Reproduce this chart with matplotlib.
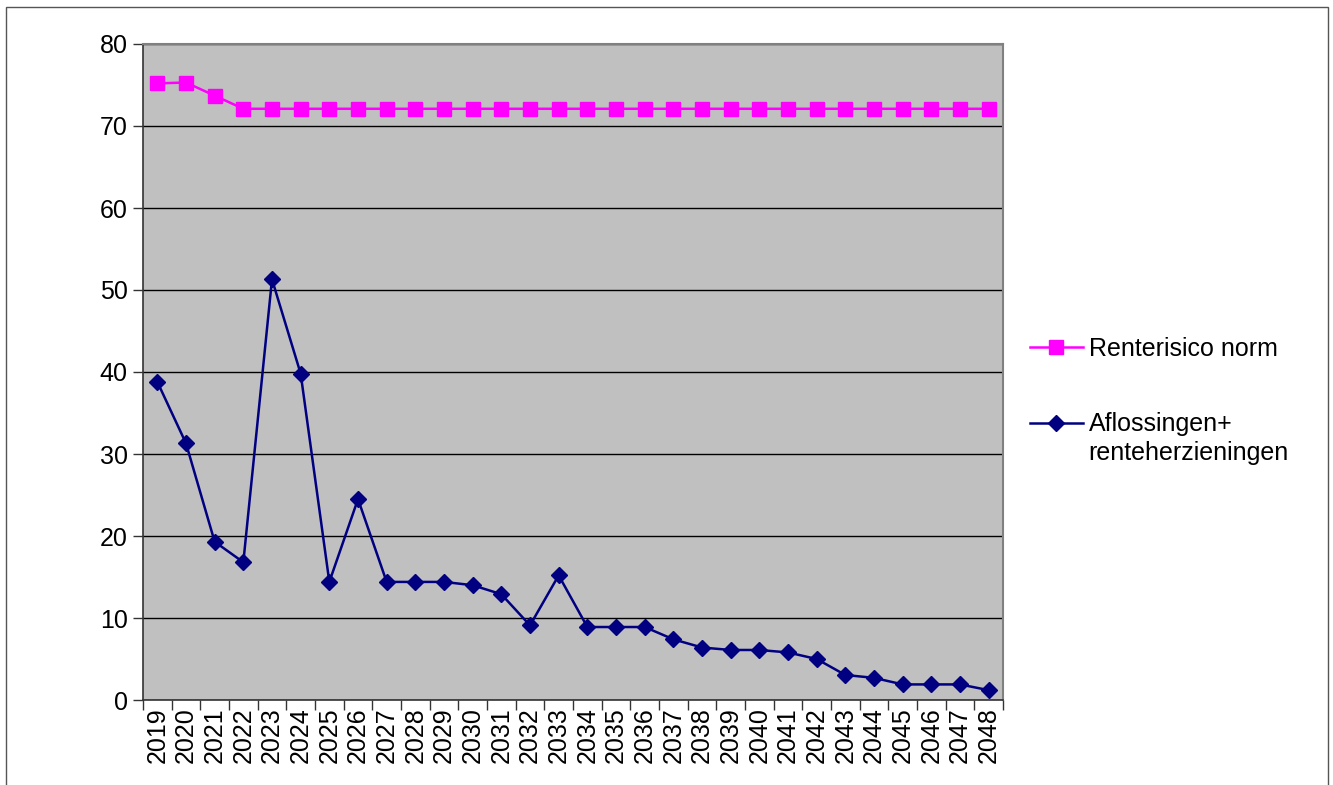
import matplotlib.pyplot as plt
from matplotlib.patches import Rectangle

plt.rcParams['font.family'] = ['Liberation Sans', 'DejaVu Sans']

years = [str(y) for y in range(2019, 2049)]
renterisico_norm = [75.2, 75.3, 73.7] + [72.1] * 27
aflossingen = [38.8, 31.3, 19.3, 16.8, 51.3, 39.8, 14.4, 24.5, 14.4, 14.4,
               14.4, 14.0, 12.9, 9.1, 15.2, 8.9, 8.9, 8.9, 7.4, 6.4,
               6.1, 6.1, 5.8, 5.0, 3.05, 2.7, 1.9, 1.9, 1.9, 1.2]
y_ticks = [0, 10, 20, 30, 40, 50, 60, 70, 80]

FS = 18

fig = plt.figure(figsize=(13.33, 7.85), dpi=100)
ax = fig.add_axes([143 / 1333, 1 - 700 / 785, 860 / 1333, 656 / 785])
ax.set_facecolor('#C0C0C0')

x = list(range(len(years)))
ax.plot(x, renterisico_norm, color='#FF00FF', lw=1.8, marker='s', ms=10,
        label='Renterisico norm', zorder=3)
ax.plot(x, aflossingen, color='#000080', lw=1.8, marker='D', ms=8,
        label='Aflossingen+', zorder=3)

ax.set_xlim(-0.5, len(years) - 0.5)
ax.set_ylim(0, 80)
ax.set_yticks(y_ticks)
ax.yaxis.grid(True, color='black', lw=1)
ax.set_axisbelow(True)

ax.set_xticks([i - 0.5 for i in range(len(years) + 1)], minor=False)
ax.set_xticklabels([])
ax.set_xticks(x, minor=True)
ax.set_xticklabels(years, minor=True, rotation=90, fontsize=FS)
ax.tick_params(axis='x', which='major', length=7, width=1, color='#333333')
ax.tick_params(axis='x', which='minor', length=0, pad=5)
ax.tick_params(axis='y', labelsize=FS, length=7, width=1, color='#333333', pad=4)

for s in ['top', 'right']:
    ax.spines[s].set_color('#808080')
    ax.spines[s].set_linewidth(1.5)
for s in ['left', 'bottom']:
    ax.spines[s].set_color('#333333')
    ax.spines[s].set_linewidth(1.2)

leg = ax.legend(loc='upper left', bbox_to_anchor=(1030 / 1333, 1 - 337 / 785),
                bbox_transform=fig.transFigure, frameon=False, fontsize=FS,
                handlelength=2.1, labelspacing=2.05, handletextpad=0.25,
                borderpad=0, borderaxespad=0)
fig.text(1088 / 1333, 1 - 453 / 785, 'renteherzieningen', fontsize=FS,
         va='center', ha='left')

fig.patches.append(Rectangle((6 / 1333, -0.05), 1322 / 1333, 1.05 - 7 / 785,
                             transform=fig.transFigure, fill=False,
                             edgecolor='#555555', lw=1))

fig.savefig('out.png', dpi=100)
